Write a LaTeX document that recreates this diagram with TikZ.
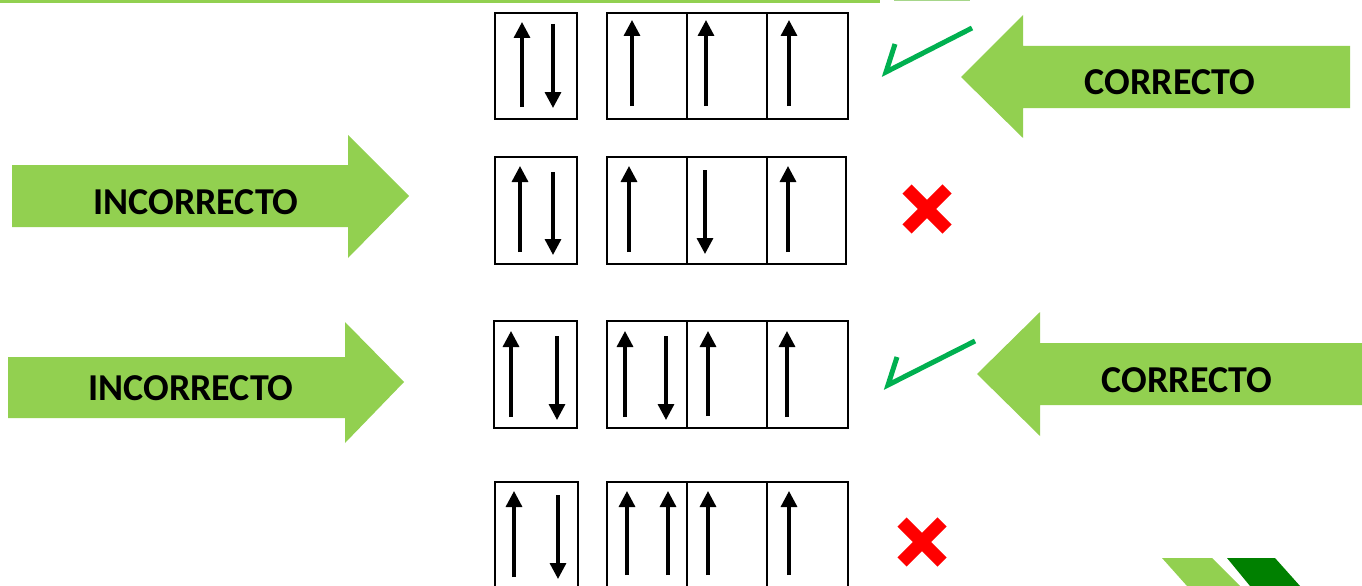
\documentclass[tikz,border=0pt]{standalone}
\usepackage{fontspec}
\setmainfont{Carlito}
\usetikzlibrary{arrows.meta}
\definecolor{lgreen}{HTML}{92D050}
\definecolor{pgreen}{HTML}{A6D68A}
\definecolor{dgreen}{HTML}{008000}
\definecolor{tickgreen}{HTML}{00B050}
\definecolor{xred}{HTML}{FF0000}
\begin{document}
\begin{tikzpicture}[x=1pt,y=-1pt,
  box/.style={draw=black,line width=2.4pt},
  spin/.style={line width=3.3pt,-{Triangle[width=16pt,length=16pt]}},
  bigarrow/.style={fill=lgreen},
  lbl/.style={font=\fontsize{38}{40}\selectfont\bfseries,inner sep=0pt},
  tick/.style={draw=tickgreen,line width=5pt,line join=miter},
  crossline/.style={draw=xred,line width=13pt}]
\useasboundingbox (0,0) rectangle (1362,586);
\clip (0,0) rectangle (1362,586);
% top lines
\fill[lgreen] (0,0) rectangle (880,3);
\fill[pgreen] (894,0) rectangle (970,1.5);
% ---- row 1
\draw[box] (495,13) rectangle (577,119);
\draw[box] (607,13) rectangle (848,119);
\draw[box] (687,13) -- (687,119);
\draw[box] (767,13) -- (767,119);
\draw[spin] (522,107) -- (522,22);
\draw[spin] (553,24) -- (553,108);
\draw[spin] (632,106) -- (632,20);
\draw[spin] (706,106) -- (706,20);
\draw[spin] (789,106) -- (789,20);
% ---- row 2
\draw[box] (495,157) rectangle (577,264);
\draw[box] (607,157) rectangle (846,264);
\draw[box] (687,157) -- (687,264);
\draw[box] (767,157) -- (767,264);
\draw[spin] (520,252) -- (520,166);
\draw[spin] (553,172) -- (553,255);
\draw[spin] (629,252) -- (629,166);
\draw[spin] (705,170) -- (705,254);
\draw[spin] (788,252) -- (788,166);
% ---- row 3
\draw[box] (494,321) rectangle (577,428);
\draw[box] (607,321) rectangle (848,428);
\draw[box] (687,321) -- (687,428);
\draw[box] (767,321) -- (767,428);
\draw[spin] (511,417) -- (511,331);
\draw[spin] (557,336) -- (557,420);
\draw[spin] (625,417) -- (625,331);
\draw[spin] (666,336) -- (666,420);
\draw[spin] (708,416) -- (708,331);
\draw[spin] (787,417) -- (787,331);
% ---- row 4
\draw[box] (495,482) rectangle (578,600);
\draw[box] (607,482) rectangle (848,600);
\draw[box] (687,482) -- (687,600);
\draw[box] (767,482) -- (767,600);
\draw[spin] (514,577) -- (514,491);
\draw[spin] (558,495) -- (558,579);
\draw[spin] (627,575) -- (627,491);
\draw[spin] (668,575) -- (668,491);
\draw[spin] (708,575) -- (708,491);
\draw[spin] (789,575) -- (789,491);
% ---- big arrows
\fill[bigarrow] (12,165) -- (348,165) -- (348,135) -- (409,196) -- (348,258) -- (348,227) -- (12,227) -- cycle;
\node[lbl] (inc1) at (196,202) {INCORRECTO};
\fill[bigarrow] (8,357) -- (345,357) -- (345,322) -- (404,382) -- (345,443) -- (345,418) -- (8,418) -- cycle;
\node[lbl] (inc2) at (191,388) {INCORRECTO};
\fill[bigarrow] (1350,46) -- (1023,46) -- (1023,15) -- (961,77) -- (1023,138) -- (1023,108) -- (1350,108) -- cycle;
\node[lbl] (cor1) at (1170,82) {CORRECTO};
\fill[bigarrow] (1362,343) -- (1040,343) -- (1040,312) -- (977,374) -- (1040,436) -- (1040,405) -- (1362,405) -- cycle;
\node[lbl] (cor2) at (1187,380) {CORRECTO};
% ---- ticks
\draw[tick] (895,44) -- (886,72) -- (972,28);
\draw[tick] (897,357) -- (888,385) -- (975,341);
% ---- crosses
\draw[crossline] (907,189) -- (947,229);
\draw[crossline] (907,229) -- (947,189);
\draw[crossline] (902,522) -- (942,562);
\draw[crossline] (902,562) -- (942,522);
% ---- corner decoration
\fill[lgreen] (1162,558) -- (1212,558) -- (1240,586) -- (1187,586) -- cycle;
\fill[dgreen] (1227,558) -- (1275,558) -- (1300,586) -- (1250,586) -- cycle;
\end{tikzpicture}
\end{document}
